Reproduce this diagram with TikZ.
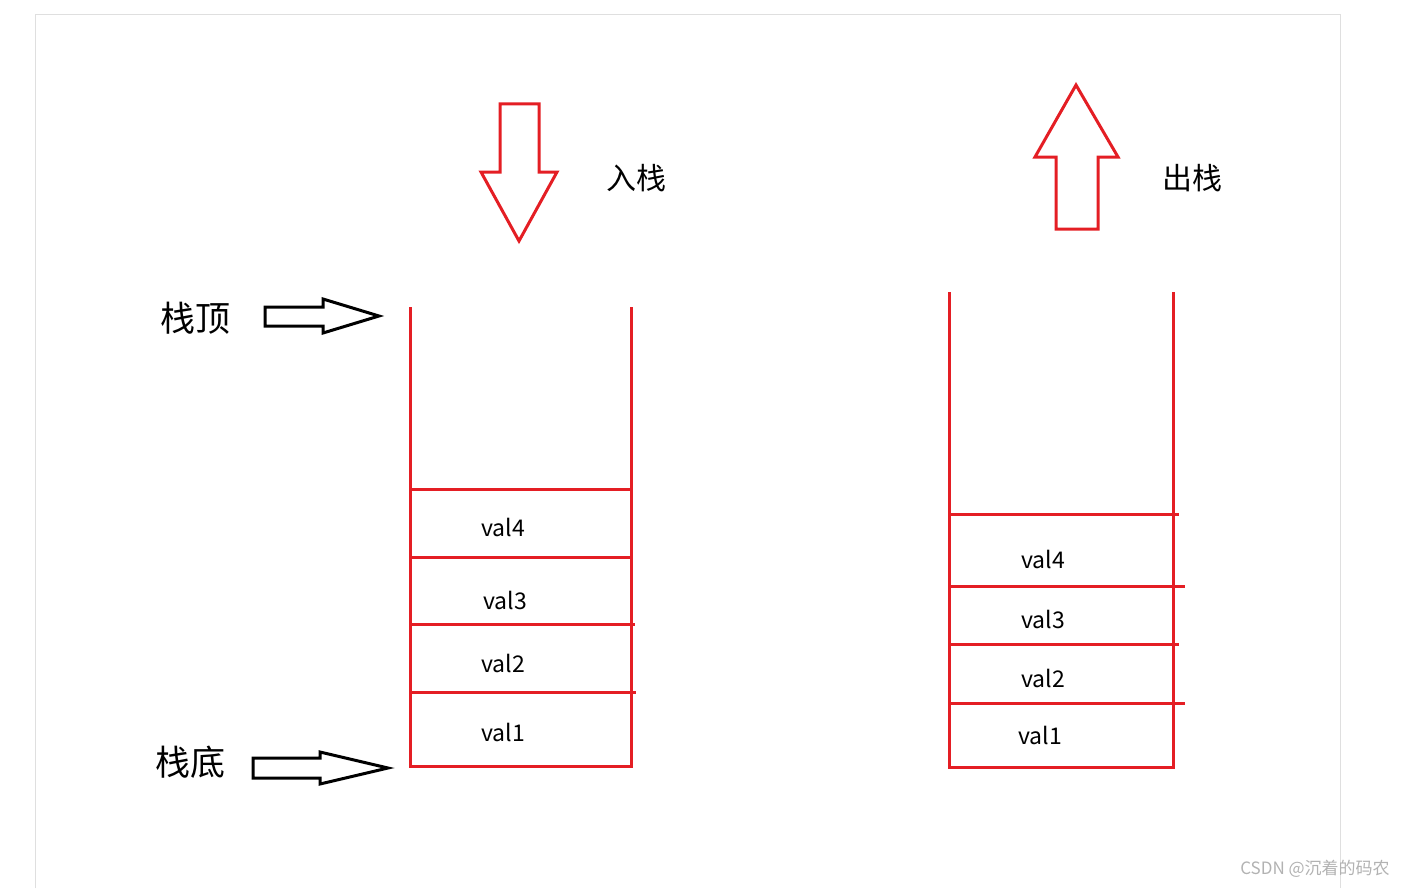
\documentclass[tikz,border=0pt]{standalone}
\usepackage{fontspec}
\setmainfont{Noto Sans CJK SC}
\begin{document}
\begin{tikzpicture}[x=0.5pt,y=-0.5pt,
  red/.style={draw={rgb,255:red,228;green,30;blue,36},line width=1.5pt},
  blk/.style={draw=black,line width=1.5pt,line join=miter},
  val/.style={font=\fontsize{11.5}{12}\selectfont},
  cn/.style={font=\fontsize{15}{16}\selectfont},
  cnb/.style={font=\fontsize{17.5}{18}\selectfont}]
\useasboundingbox (0,0) rectangle (1412,888);
\draw[gray!25,line width=0.5pt] (35,888) -- (35,15) -- (1340,15) -- (1340,888);
% left stack
\draw[red] (410,307) -- (410,766) -- (631,766) -- (631,307);
\draw[red] (410,489) -- (631,489);
\draw[red] (410,557) -- (631,557);
\draw[red] (410,624) -- (635,624);
\draw[red] (410,692) -- (636,692);
\node[val] (l4) at (503,527) {val4};
\node[val] (l3) at (505,600) {val3};
\node[val] (l2) at (503,663) {val2};
\node[val] (l1) at (503,732) {val1};
% right stack
\draw[red] (949,292) -- (949,767) -- (1173,767) -- (1173,292);
\draw[red] (949,514) -- (1179,514);
\draw[red] (949,586) -- (1185,586);
\draw[red] (949,644) -- (1179,644);
\draw[red] (949,703) -- (1185,703);
\node[val] (r4) at (1043,559) {val4};
\node[val] (r3) at (1043,619) {val3};
\node[val] (r2) at (1043,678) {val2};
\node[val] (r1) at (1040,735) {val1};
% push arrow
\draw[red,line join=miter] (500,104) -- (539,104) -- (539,172) -- (557,172) -- (519,241) -- (481,172) -- (500,172) -- cycle;
\node[cn] (push) at (636,178) {入栈};
% pop arrow
\draw[red,line join=miter] (1056,229) -- (1098,229) -- (1098,157) -- (1118,157) -- (1076,85) -- (1035,157) -- (1056,157) -- cycle;
\node[cn] (pop) at (1192,178) {出栈};
% black arrows
\node[cnb] (top) at (195,318) {栈顶};
\draw[blk] (265,307) -- (323,307) -- (323,299) -- (379,316) -- (323,333) -- (323,326) -- (265,326) -- cycle;
\node[cnb] (bot) at (190,762) {栈底};
\draw[blk] (253,758) -- (320,758) -- (320,752) -- (388,768) -- (320,784) -- (320,778) -- (253,778) -- cycle;
\node[text=gray!60,font=\fontsize{8.5}{9}\selectfont] (wm) at (1315,869) {CSDN @沉着的码农};
\end{tikzpicture}
\end{document}
